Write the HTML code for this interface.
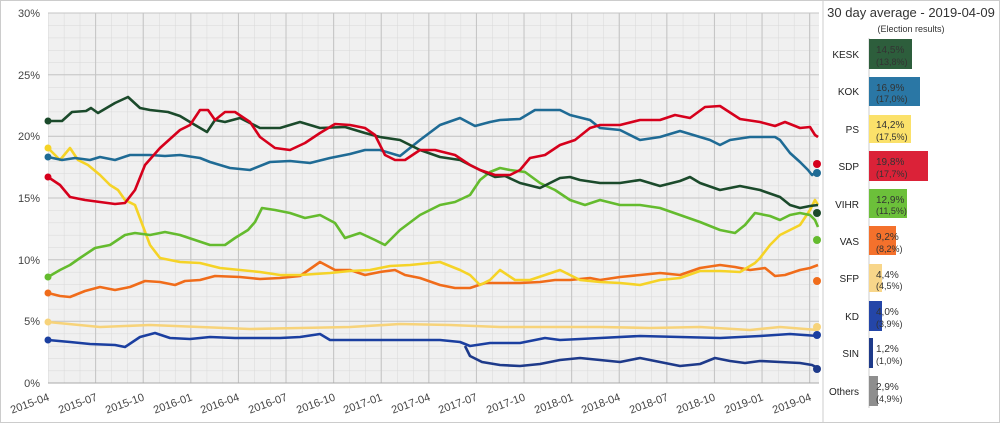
<!DOCTYPE html>
<html><head><meta charset="utf-8"><style>
body{margin:0;background:#fff}
svg{display:block;font-family:"Liberation Sans",sans-serif}
</style></head><body>
<svg width="1000" height="423" viewBox="0 0 1000 423" xmlns="http://www.w3.org/2000/svg">
<defs>
<pattern id="g" x="48" y="13" width="15.87" height="12.33" patternUnits="userSpaceOnUse">
<path d="M0 0V12.33M0 0H15.87" stroke="#d8d8d8" stroke-width="1" fill="none"/>
</pattern>
</defs>
<rect x="0.5" y="0.5" width="999" height="422" fill="#fff" stroke="#ccc"/>
<rect x="48" y="13" width="771" height="370" fill="#f0f0f0"/>
<rect x="48" y="13" width="771" height="370" fill="url(#g)"/>
<g stroke="#c4c4c4" stroke-width="1">
<line x1="95.6" y1="13" x2="95.6" y2="383"/><line x1="143.2" y1="13" x2="143.2" y2="383"/><line x1="190.8" y1="13" x2="190.8" y2="383"/><line x1="238.4" y1="13" x2="238.4" y2="383"/><line x1="286" y1="13" x2="286" y2="383"/><line x1="333.6" y1="13" x2="333.6" y2="383"/><line x1="381.2" y1="13" x2="381.2" y2="383"/><line x1="428.8" y1="13" x2="428.8" y2="383"/><line x1="476.4" y1="13" x2="476.4" y2="383"/><line x1="524" y1="13" x2="524" y2="383"/><line x1="571.6" y1="13" x2="571.6" y2="383"/><line x1="619.2" y1="13" x2="619.2" y2="383"/><line x1="666.8" y1="13" x2="666.8" y2="383"/><line x1="714.4" y1="13" x2="714.4" y2="383"/><line x1="762" y1="13" x2="762" y2="383"/><line x1="809.6" y1="13" x2="809.6" y2="383"/>
<line x1="48" y1="13" x2="819" y2="13"/><line x1="48" y1="74.7" x2="819" y2="74.7"/><line x1="48" y1="136.3" x2="819" y2="136.3"/><line x1="48" y1="198" x2="819" y2="198"/><line x1="48" y1="259.7" x2="819" y2="259.7"/><line x1="48" y1="321.3" x2="819" y2="321.3"/>
</g>
<line x1="48" y1="383" x2="819" y2="383" stroke="#aaa"/>
<line x1="823" y1="0" x2="823" y2="423" stroke="#ccc"/>
<g font-size="11" fill="#444" text-anchor="end">
<text x="40" y="17">30%</text><text x="40" y="79">25%</text><text x="40" y="140">20%</text><text x="40" y="202">15%</text><text x="40" y="264">10%</text><text x="40" y="325">5%</text><text x="40" y="387">0%</text>
</g>
<g font-size="11" fill="#444" text-anchor="end">
<text transform="translate(50,400) rotate(-20)">2015-04</text><text transform="translate(98,400) rotate(-20)">2015-07</text><text transform="translate(145,400) rotate(-20)">2015-10</text><text transform="translate(193,400) rotate(-20)">2016-01</text><text transform="translate(240,400) rotate(-20)">2016-04</text><text transform="translate(288,400) rotate(-20)">2016-07</text><text transform="translate(336,400) rotate(-20)">2016-10</text><text transform="translate(383,400) rotate(-20)">2017-01</text><text transform="translate(431,400) rotate(-20)">2017-04</text><text transform="translate(478,400) rotate(-20)">2017-07</text><text transform="translate(526,400) rotate(-20)">2017-10</text><text transform="translate(574,400) rotate(-20)">2018-01</text><text transform="translate(621,400) rotate(-20)">2018-04</text><text transform="translate(669,400) rotate(-20)">2018-07</text><text transform="translate(716,400) rotate(-20)">2018-10</text><text transform="translate(764,400) rotate(-20)">2019-01</text><text transform="translate(812,400) rotate(-20)">2019-04</text>
</g>
<g fill="none" stroke-width="2.6" stroke-linejoin="round">
<polyline stroke="#f7d37a" points="48,322 100,327 150,325 200,327 250,329 300,328 350,327 400,324 450,325 500,327 550,327 600,327 650,328 700,327 750,330 780,327 818,330"/>
<polyline stroke="#1b3fa0" points="48,340 70,342 90,344 115,345 125,347 140,337 155,333 170,338 190,339 210,337 235,338 260,338 280,338 300,337 320,334 330,340 360,340 400,340 440,340 460,342 470,346 490,343 520,343 545,338 560,340 600,338 640,336 680,337 720,338 760,336 790,334 818,336"/>
<polyline stroke="#1e3a8a" points="465,346 470,356 482,362 500,365 520,366 540,364 560,360 580,358 600,360 620,362 640,358 660,362 680,366 700,364 715,358 730,361 745,363 760,361 780,362 800,363 812,365 818,368"/>
<polyline stroke="#f06c1a" points="48,293 60,296 70,297 85,291 100,287 115,290 130,287 145,281 160,282 175,285 185,281 200,280 215,276 240,277 260,279 280,278 300,276 320,262 335,270 350,270 365,275 380,272 395,270 405,275 420,278 440,285 455,288 470,288 485,283 500,283 520,283 540,282 555,280 570,280 590,278 600,280 620,277 640,275 660,273 680,275 700,268 720,265 735,267 750,270 765,268 775,276 785,275 800,270 810,268 818,265"/>
<polyline stroke="#f5d327" points="48,148 60,160 70,148 78,160 88,165 100,175 110,185 118,190 125,200 135,205 150,245 160,258 180,262 200,263 220,268 240,270 260,272 280,275 300,275 330,273 350,271 370,270 390,266 410,265 440,262 460,270 470,275 480,285 490,280 500,270 515,280 530,280 545,275 560,270 580,280 600,282 620,283 640,285 660,280 680,278 700,271 720,271 740,272 755,263 760,258 770,245 780,235 790,230 800,225 810,210 815,200 818,205"/>
<polyline stroke="#64bb2e" points="48,277 60,270 70,265 80,258 95,248 110,245 125,235 135,233 150,235 165,232 180,235 195,240 210,245 225,245 235,238 248,230 255,222 262,208 275,210 290,213 305,218 320,215 335,223 345,238 360,233 375,240 385,245 400,230 420,215 440,205 455,202 470,195 480,180 490,172 500,168 510,170 525,172 540,183 555,190 570,200 585,205 600,200 620,205 640,205 660,208 680,215 700,222 720,230 735,233 745,225 755,213 770,216 780,220 790,215 800,213 810,215 815,220 818,227"/>
<polyline stroke="#1f6b95" points="48,157 62,160 75,158 90,160 100,157 115,160 130,155 150,155 165,156 180,155 200,158 210,162 230,168 250,170 270,162 290,161 310,163 330,158 350,154 365,150 380,150 400,156 420,140 440,125 460,118 475,126 490,122 500,120 520,119 535,110 560,110 570,115 590,120 600,128 620,130 640,140 660,137 680,131 690,134 710,140 720,145 730,140 750,137 775,137 780,140 790,153 800,162 808,170 812,175 818,171"/>
<polyline stroke="#1b4a2b" points="48,121 62,121 72,112 86,111 91,108 98,113 115,103 128,97 140,108 150,110 168,112 180,116 195,125 207,132 215,120 225,122 240,118 260,128 280,128 300,122 320,128 345,127 365,133 380,137 400,140 420,150 440,157 460,160 480,170 495,177 505,176 520,183 540,188 560,178 570,177 580,180 600,183 620,183 640,180 660,186 680,181 690,177 700,183 720,190 740,186 760,190 780,197 790,205 800,208 810,206 818,205"/>
<polyline stroke="#d6001c" points="48,177 60,185 70,197 85,200 100,202 115,204 125,203 135,190 145,165 160,148 180,130 190,125 200,110 208,110 215,120 225,112 235,112 250,122 260,137 275,148 290,150 305,143 320,133 335,124 350,125 365,128 375,135 385,155 395,160 405,160 420,150 435,150 455,155 470,165 480,170 495,175 510,175 520,170 530,158 545,155 560,145 575,140 590,128 600,125 620,125 640,120 660,120 675,115 690,118 705,107 720,106 740,119 760,122 775,126 785,122 800,128 810,127 815,135 818,137"/>
</g>
<g>
<circle cx="48" cy="121" r="3.5" fill="#1b4a2b"/><circle cx="48" cy="157" r="3.5" fill="#1f6b95"/><circle cx="48" cy="148" r="3.5" fill="#f5d327"/><circle cx="48" cy="177" r="3.5" fill="#d6001c"/><circle cx="48" cy="277" r="3.5" fill="#64bb2e"/><circle cx="48" cy="293" r="3.5" fill="#f06c1a"/><circle cx="48" cy="322" r="3.5" fill="#f7d37a"/><circle cx="48" cy="340" r="3.5" fill="#1b3fa0"/>
<circle cx="817" cy="213" r="4" fill="#1b4a2b"/><circle cx="817" cy="173" r="4" fill="#1f6b95"/><circle cx="817" cy="164" r="4" fill="#d6001c"/><circle cx="817" cy="240" r="4" fill="#64bb2e"/><circle cx="817" cy="281" r="4" fill="#f06c1a"/><circle cx="817" cy="327" r="4" fill="#f7d37a"/><circle cx="817" cy="335" r="4" fill="#1b3fa0"/><circle cx="817" cy="369" r="4" fill="#1e3a8a"/>
</g>
<text x="911" y="17" font-size="13" fill="#333" text-anchor="middle">30 day average - 2019-04-09</text>
<text x="911" y="32" font-size="9" fill="#333" text-anchor="middle">(Election results)</text>
<line x1="869" y1="38" x2="869" y2="408" stroke="#ccc"/>
<g font-size="10" fill="#222" text-anchor="end">
<text x="859" y="58">KESK</text><text x="859" y="95">KOK</text><text x="859" y="133">PS</text><text x="859" y="170">SDP</text><text x="859" y="208">VIHR</text><text x="859" y="245">VAS</text><text x="859" y="282">SFP</text><text x="859" y="320">KD</text><text x="859" y="357">SIN</text><text x="859" y="395">Others</text>
</g>
<rect x="869" y="39" width="43" height="30" fill="#2d5e3c"/>
<rect x="869" y="77" width="51" height="29" fill="#2a77a5"/>
<rect x="869" y="115" width="42" height="28" fill="#fbe16a"/>
<rect x="869" y="151" width="59" height="30" fill="#db2238"/>
<rect x="869" y="189" width="38" height="29" fill="#6cc03a"/>
<rect x="869" y="226" width="27" height="29" fill="#f4712c"/>
<rect x="869" y="264" width="13" height="28" fill="#f8d68a"/>
<rect x="869" y="301" width="13" height="30" fill="#2446a8"/>
<rect x="869" y="338" width="4" height="30" fill="#1e3a8a"/>
<rect x="869" y="376" width="9" height="30" fill="#8e8e8e"/>
<g font-size="10" fill="#333">
<text x="876" y="53">14,5%</text><text x="876" y="65" font-size="9">(13,8%)</text>
<text x="876" y="91">16,9%</text><text x="876" y="102" font-size="9">(17,0%)</text>
<text x="876" y="128">14,2%</text><text x="876" y="140" font-size="9">(17,5%)</text>
<text x="876" y="165">19,8%</text><text x="876" y="177" font-size="9">(17,7%)</text>
<text x="876" y="203">12,9%</text><text x="876" y="214" font-size="9">(11,5%)</text>
<text x="876" y="240">9,2%</text><text x="876" y="252" font-size="9">(8,2%)</text>
<text x="876" y="278">4,4%</text><text x="876" y="289" font-size="9">(4,5%)</text>
<text x="876" y="315">4,0%</text><text x="876" y="327" font-size="9">(3,9%)</text>
<text x="876" y="352">1,2%</text><text x="876" y="364" font-size="9">(1,0%)</text>
<text x="876" y="390">2,9%</text><text x="876" y="402" font-size="9">(4,9%)</text>
</g>
</svg>
</body></html>
